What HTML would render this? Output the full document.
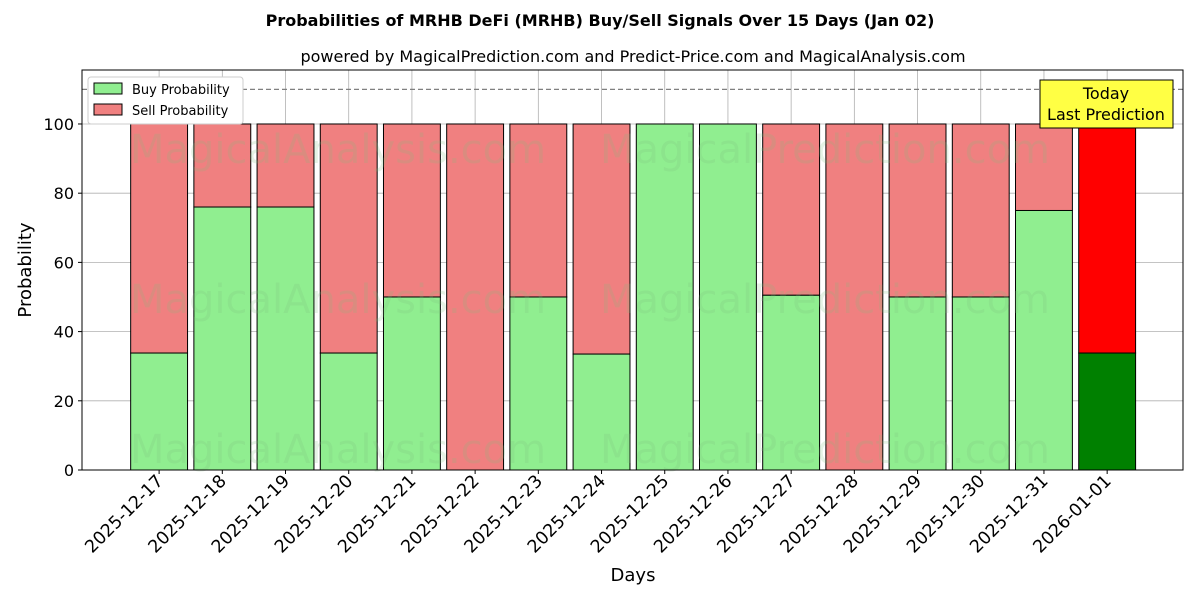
<!DOCTYPE html>
<html><head><meta charset="utf-8">
<style>
body{margin:0;background:#fff;font-family:"DejaVu Sans","Liberation Sans",sans-serif;}
svg text{font-family:"DejaVu Sans","Liberation Sans",sans-serif;}
</style></head>
<body>
<svg id="chart" width="1200" height="600" xmlns="http://www.w3.org/2000/svg">
<rect width="1200" height="600" fill="#fff"/>
<text x="600" y="26" text-anchor="middle" font-size="16" font-weight="bold">Probabilities of MRHB DeFi (MRHB) Buy/Sell Signals Over 15 Days (Jan 02)</text>
<text x="633" y="62" text-anchor="middle" font-size="16">powered by MagicalPrediction.com and Predict-Price.com and MagicalAnalysis.com</text>
<g id="grid"></g>
<g id="bars"></g>
<g id="wm" fill="#7fbf7f" opacity="0.2" font-size="40">
<text x="130" y="163">MagicalAnalysis.com</text>
<text x="600" y="163">MagicalPrediction.com</text>
<text x="130" y="313">MagicalAnalysis.com</text>
<text x="600" y="313">MagicalPrediction.com</text>
<text x="130" y="463">MagicalAnalysis.com</text>
<text x="600" y="463">MagicalPrediction.com</text>
</g>
<line x1="82" x2="1183" y1="89.4" y2="89.4" stroke="#808080" stroke-width="1.3" stroke-dasharray="5,3"/>
<rect x="82" y="70" width="1101" height="400" fill="none" stroke="#000" stroke-width="1"/>
<g id="axes"></g>
<text x="633" y="581" text-anchor="middle" font-size="18">Days</text>
<text x="31" y="270" text-anchor="middle" font-size="18" transform="rotate(-90 31 270)">Probability</text>
<g>
<rect x="88" y="77" width="155" height="47" fill="#fff" stroke="#ccc" rx="3"/>
<rect x="94" y="83" width="28" height="11" fill="lightgreen" stroke="#000"/>
<text x="132" y="94" font-size="13">Buy Probability</text>
<rect x="94" y="104" width="28" height="11" fill="lightcoral" stroke="#000"/>
<text x="132" y="115" font-size="13">Sell Probability</text>
</g>
<g>
<rect x="1040" y="80" width="133" height="48" fill="#ffff44" stroke="#000"/>
<text x="1106" y="99" text-anchor="middle" font-size="16">Today</text>
<text x="1106" y="120" text-anchor="middle" font-size="16">Last Prediction</text>
</g>
</svg>
<script>
const days=["2025-12-17","2025-12-18","2025-12-19","2025-12-20","2025-12-21","2025-12-22","2025-12-23","2025-12-24","2025-12-25","2025-12-26","2025-12-27","2025-12-28","2025-12-29","2025-12-30","2025-12-31","2026-01-01"];
const buy=[33.8,76,76,33.8,50,0,50,33.5,100,100,50.5,0,50,50,75,33.8];
const yTicks=[0,20,40,60,80,100];
const NS="http://www.w3.org/2000/svg";
const X0=82,X1=1183,Y0=470,Y1=70,xmin=-1.22,xmax=16.2,ymin=0,ymax=115.6;
const xs=i=>X0+(i-xmin)/(xmax-xmin)*(X1-X0);
const ys=v=>Y0-(v-ymin)/(ymax-ymin)*(Y0-Y1);
function mk(t,a,p){const e=document.createElementNS(NS,t);for(const k in a)e.setAttribute(k,a[k]);p.appendChild(e);return e;}
const grid=document.getElementById('grid'),bars=document.getElementById('bars'),axes=document.getElementById('axes');
const bw=0.9*(xs(1)-xs(0));
yTicks.forEach(v=>{
 const g=mk('line',{x1:X0,x2:X1,y1:ys(v),y2:ys(v),stroke:'#b0b0b0','stroke-width':0.8},grid);
 
 
 mk('line',{x1:X0-4,x2:X0,y1:ys(v),y2:ys(v),stroke:'#000'},axes);
 const t=mk('text',{x:X0-8,y:ys(v)+6,'text-anchor':'end','font-size':16},axes);
 t.textContent=v;
 
 
});
days.forEach((d,i)=>{
 const cx=xs(i);
 const g=mk('line',{x1:cx,x2:cx,y1:Y1,y2:Y0,stroke:'#b0b0b0','stroke-width':0.8},grid);
 
 
 const last=i===days.length-1;
 const s=mk('rect',{x:cx-bw/2,y:ys(100),width:bw,height:ys(buy[i])-ys(100),fill:last?'red':'lightcoral',stroke:'#000','stroke-width':1},bars);
 
 
 const b=mk('rect',{x:cx-bw/2,y:ys(buy[i]),width:bw,height:ys(0)-ys(buy[i]),fill:last?'green':'lightgreen',stroke:'#000','stroke-width':1},bars);
 
 
 mk('line',{x1:cx,x2:cx,y1:Y0,y2:Y0+4,stroke:'#000'},axes);
 const t=mk('text',{x:cx+5,y:Y0+12,'text-anchor':'end','font-size':17.5,transform:`rotate(-45 ${cx+5} ${Y0+12})`},axes);
 t.textContent=d;
 
 
});
</script>
</body></html>
